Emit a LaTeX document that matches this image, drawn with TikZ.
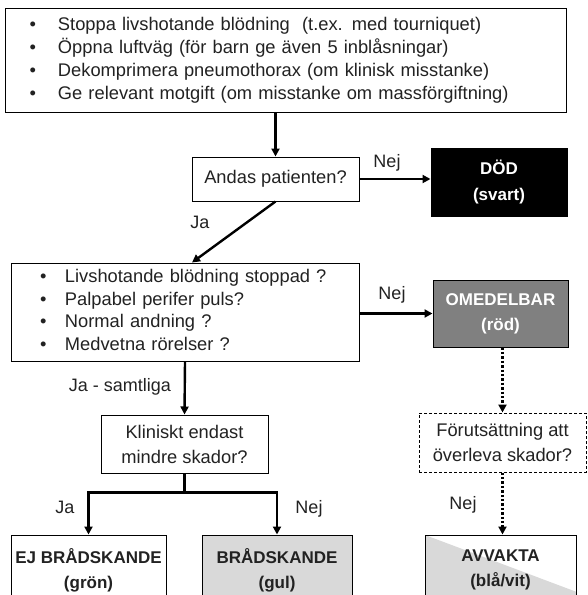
\documentclass[tikz,border=0pt]{standalone}
\usepackage{fontspec}
\setmainfont{Liberation Sans}
\usetikzlibrary{arrows.meta,calc}
\definecolor{textgra}{HTML}{222222}
\definecolor{rodgra}{HTML}{808080}
\definecolor{ljusgra}{HTML}{D9D9D9}
\tikzset{
	ruta/.style={draw=black, line width=1pt, fill=white, text=textgra, align=center, inner sep=0pt},
	utfall/.style={ruta, minimum height=70pt, font=\fontsize{17}{25}\selectfont\bfseries},
	pil/.style={line width=2.4pt, -{Triangle[length=8pt,width=8pt]}},
	prickpil/.style={pil, dash pattern=on 2.4pt off 2pt},
	etikett/.style={text=textgra, inner sep=0pt, font=\fontsize{18}{20}\selectfont}
}
\newcommand{\punkt}{\textbullet}

\begin{document}
\begin{tikzpicture}[x=1pt, y=-1pt, font=\fontsize{18.3}{25}\selectfont]
		%%%%% RAM %%%%%
		\clip (0,0) rectangle (587,595);
		
		%%%%% RUTOR %%%%%
		\node[ruta, minimum width=561pt, minimum height=104pt, text width=512pt, inner xsep=24.5pt, align=left, font=\fontsize{18.3}{23}\selectfont] (atgarder) at (285.5,60) {\begin{tabular}{@{}p{28.5pt}@{}l@{}}
			\punkt & Stoppa livshotande blödning\ \ (t.ex. med tourniquet)\\
			\punkt & Öppna luftväg (för barn ge även 5 inblåsningar)\\
			\punkt & Dekomprimera pneumothorax (om klinisk misstanke)\\
			\punkt & Ge relevant motgift (om misstanke om massförgiftning)
		\end{tabular}};
		
		\node[ruta, minimum width=167pt, minimum height=44pt] (andas) at (275.5,179) {Andas patienten?};
		\node[utfall, fill=black, text=white, minimum width=136pt, minimum height=68pt] (dod) at (499,182) {DÖD\\(svart)};
		
		\node[ruta, minimum width=348pt, minimum height=98pt, text width=290pt, inner xsep=29pt, align=left, font=\fontsize{18.3}{22.7}\selectfont] (kontroll) at (185,312) {\begin{tabular}{@{}p{25pt}@{}l@{}}
			\punkt & Livshotande blödning stoppad ?\\
			\punkt & Palpabel perifer puls?\\
			\punkt & Normal andning ?\\
			\punkt & Medvetna rörelser ?
		\end{tabular}};
		\node[utfall, fill=rodgra, text=white, minimum width=135pt, minimum height=67pt] (omedelbar) at (500.5,313.5) {OMEDELBAR\\(röd)};
		
		\node[ruta, minimum width=167pt, minimum height=58pt] (klinisk) at (184.5,444) {Kliniskt endast\\mindre skador?};
		\node[ruta, dashed, dash pattern=on 3pt off 2pt, minimum width=167pt, minimum height=59pt] (forut) at (502.5,442.5) {Förutsättning att\\överleva skador?};
		
		\node[utfall, minimum width=155pt] (ejbrad) at (88.5,570) {EJ BRÅDSKANDE\\(grön)};
		\node[utfall, fill=ljusgra, minimum width=150pt] (brad) at (277,570) {BRÅDSKANDE\\(gul)};
		\node[utfall, minimum width=151pt, path picture={
			\fill[ljusgra] (path picture bounding box.north west) -- ($(path picture bounding box.north east)!0.81!(path picture bounding box.south east)$) -- (path picture bounding box.south east) -- (path picture bounding box.south west) -- cycle;
		}] (avvakta) at (500.5,570) {AVVAKTA\\(blå/vit)};
		
		%%%%% PILAR %%%%%
		\draw[pil] (atgarder.south -| andas) -- (andas.north);
		\draw[pil] (andas) -- (andas -| dod.west);
		\draw[pil] (andas.south) -- ($(kontroll.north)+(7,0)$);
		\draw[pil] (kontroll.east |- omedelbar) -- (omedelbar.west);
		\draw[pil] (kontroll.south) -- (klinisk.north);
		\draw[pil] (klinisk.south) -- ++(0,19) -| (ejbrad.north);
		\draw[pil] (klinisk.south) -- ++(0,19) -| (brad.north);
		\draw[prickpil] (forut.north |- omedelbar.south) -- (forut.north);
		\draw[prickpil] (forut.south) -- (forut.south |- avvakta.north);
		
		%%%%% ETIKETTER %%%%%
		\node[etikett] (nej1) at (387,163) {Nej};
		\node[etikett] (ja1) at (200,222) {Ja};
		\node[etikett] (nej2) at (392,295) {Nej};
		\node[etikett] (ja2) at (120,387) {Ja - samtliga};
		\node[etikett] (ja3) at (65,507) {Ja};
		\node[etikett] (nej3) at (309,509) {Nej};
		\node[etikett] (nej4) at (463,505) {Nej};
		
		%%%%% SLUT %%%%%
	\end{tikzpicture}
\end{document}
